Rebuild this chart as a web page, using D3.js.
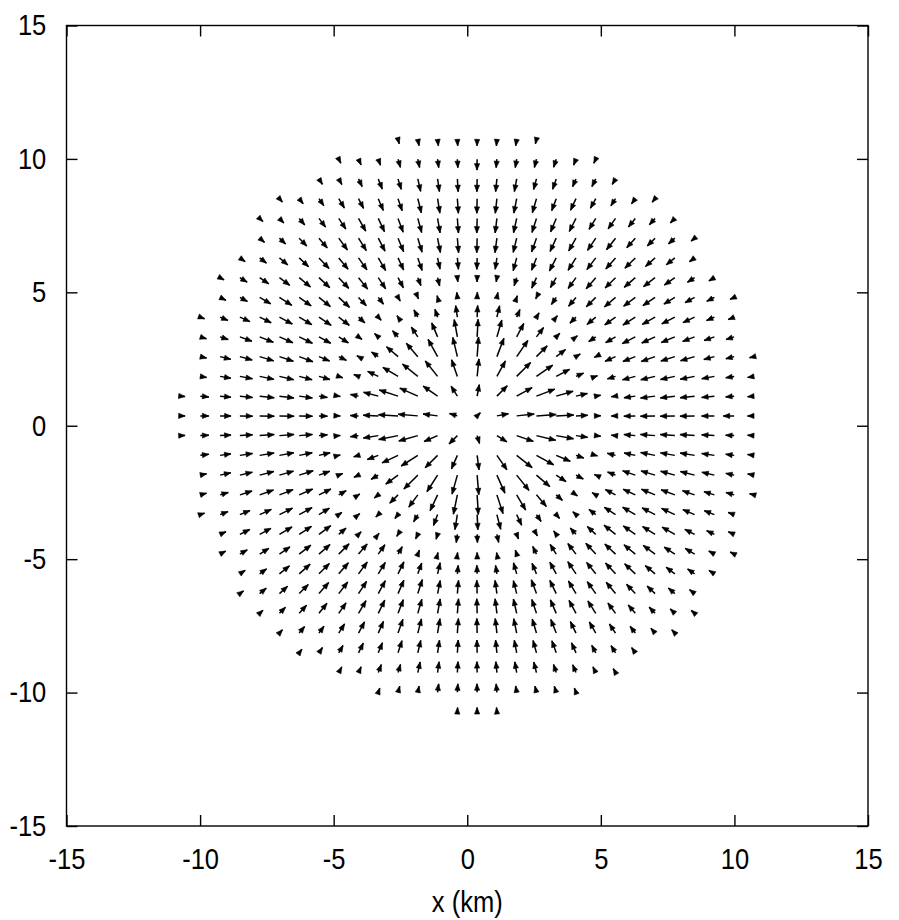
<!DOCTYPE html>
<html>
<head>
<meta charset="utf-8">
<script src="https://cdn.jsdelivr.net/npm/d3@7"></script>
<style>
  body { margin: 0; background: #fff; }
  text { font-family: "Liberation Sans", Arial, sans-serif; fill: #000; }
</style>
</head>
<body>
<svg id="chart" width="899" height="920"></svg>
<script>
// ---- data ----
const xTicks = [-15, -10, -5, 0, 5, 10, 15];
const yTicks = [-15, -10, -5, 0, 5, 10, 15];
const xLabel = "x (km)";

// grid node coordinates (km), used for both columns and rows
const gridCoords = [-10.73,-9.99,-9.25,-8.51,-7.77,-7.03,-6.29,-5.55,-4.81,-4.07,-3.33,-2.59,-1.85,-1.11,-0.37,
                     0.37,1.11,1.85,2.59,3.33,4.07,4.81,5.55,6.29,7.03,7.77,8.51,9.25,9.99,10.73];
// centre the vectors point away from / towards (km)
const sourceX = 0.2;
const sourceY = 0.2;
// rows from top to bottom
const rowY = [10.73,9.99,9.25,8.51,7.77,7.03,6.29,5.55,4.81,4.07,3.33,2.59,1.85,1.11,0.37,
              -0.37,-1.11,-1.85,-2.59,-3.33,-4.07,-4.81,-5.55,-6.29,-7.03,-7.77,-8.51,-9.25,-9.99,-10.73];
// index (into gridCoords) of the first column present in each row
const rowFirstCol = [11,8,7,5,4,4,3,2,2,1,1,1,1,0,0,0,1,1,1,1,2,2,3,3,4,5,6,8,10,14];
// signed radial length of each arrow (km): + outward, - inward
const rowSpeed = [
  [-0.17,-0.24,-0.24,-0.24,-0.24,-0.24,-0.24,-0.17],
  [-0.17,-0.24,-0.24,-0.32,-0.32,-0.32,-0.32,-0.41,-0.32,-0.32,-0.32,-0.32,-0.24,-0.17],
  [-0.24,-0.24,-0.32,-0.41,-0.41,-0.48,-0.48,-0.48,-0.48,-0.48,-0.48,-0.41,-0.41,-0.32,-0.32,-0.24],
  [-0.17,-0.24,-0.32,-0.41,-0.41,-0.48,-0.48,-0.55,-0.55,-0.55,-0.55,-0.55,-0.55,-0.55,-0.48,-0.48,-0.41,-0.32,-0.24,-0.17],
  [-0.17,-0.24,-0.32,-0.41,-0.48,-0.55,-0.55,-0.55,-0.55,-0.55,-0.55,-0.55,-0.55,-0.55,-0.55,-0.55,-0.55,-0.48,-0.48,-0.41,-0.32,-0.24],
  [-0.24,-0.32,-0.41,-0.48,-0.55,-0.55,-0.55,-0.55,-0.55,-0.55,-0.55,-0.55,-0.55,-0.55,-0.55,-0.55,-0.55,-0.55,-0.55,-0.48,-0.41,-0.32,-0.17],
  [-0.24,-0.32,-0.41,-0.48,-0.55,-0.55,-0.55,-0.55,-0.5,-0.5,-0.43,-0.43,-0.43,-0.43,-0.5,-0.5,-0.55,-0.55,-0.55,-0.55,-0.55,-0.48,-0.41,-0.24],
  [-0.17,-0.32,-0.41,-0.48,-0.55,-0.55,-0.55,-0.55,-0.5,-0.43,-0.32,-0.32,-0.16,-0.16,-0.16,-0.32,-0.43,-0.43,-0.5,-0.55,-0.55,-0.55,-0.55,-0.48,-0.32,-0.24],
  [-0.24,-0.32,-0.48,-0.55,-0.55,-0.55,-0.55,-0.43,-0.32,-0.16,-0.06,0.07,0.19,0.19,0.19,0.07,-0.06,-0.32,-0.43,-0.5,-0.55,-0.55,-0.55,-0.48,-0.41,-0.32,-0.17],
  [-0.17,-0.32,-0.41,-0.48,-0.55,-0.55,-0.55,-0.5,-0.32,-0.16,0.07,0.31,0.31,0.44,0.44,0.44,0.31,0.19,0.07,-0.32,-0.43,-0.5,-0.55,-0.55,-0.55,-0.48,-0.32,-0.24],
  [-0.24,-0.32,-0.48,-0.55,-0.55,-0.55,-0.5,-0.43,-0.16,0.19,0.31,0.44,0.57,0.66,0.66,0.66,0.57,0.44,0.19,0.07,-0.32,-0.43,-0.55,-0.55,-0.55,-0.48,-0.41,-0.32],
  [-0.24,-0.41,-0.48,-0.55,-0.55,-0.55,-0.43,-0.32,0.07,0.31,0.57,0.66,0.74,0.74,0.74,0.74,0.74,0.57,0.44,0.19,-0.06,-0.43,-0.5,-0.55,-0.55,-0.55,-0.41,-0.32,-0.17],
  [-0.24,-0.41,-0.48,-0.55,-0.55,-0.5,-0.43,-0.16,0.19,0.44,0.66,0.74,0.74,0.66,0.66,0.66,0.74,0.74,0.57,0.31,0.07,-0.32,-0.5,-0.55,-0.55,-0.55,-0.48,-0.32,-0.24],
  [-0.17,-0.32,-0.41,-0.48,-0.55,-0.55,-0.5,-0.32,-0.06,0.31,0.57,0.74,0.74,0.66,0.44,0.44,0.55,0.66,0.74,0.66,0.44,0.19,-0.16,-0.43,-0.55,-0.55,-0.55,-0.48,-0.32,-0.24],
  [-0.17,-0.32,-0.41,-0.48,-0.55,-0.55,-0.5,-0.32,-0.06,0.31,0.57,0.74,0.74,0.55,0.31,0.17,0.44,0.66,0.74,0.66,0.44,0.19,-0.16,-0.43,-0.55,-0.55,-0.55,-0.48,-0.41,-0.24],
  [-0.17,-0.32,-0.41,-0.48,-0.55,-0.55,-0.5,-0.32,-0.06,0.31,0.57,0.74,0.74,0.55,0.44,0.31,0.44,0.66,0.74,0.66,0.44,0.19,-0.16,-0.43,-0.55,-0.55,-0.55,-0.48,-0.32,-0.24],
  [-0.32,-0.41,-0.48,-0.55,-0.55,-0.5,-0.43,-0.06,0.19,0.44,0.66,0.74,0.66,0.55,0.55,0.66,0.74,0.74,0.57,0.31,0.07,-0.32,-0.43,-0.55,-0.55,-0.55,-0.48,-0.32,-0.24],
  [-0.24,-0.41,-0.48,-0.55,-0.55,-0.55,-0.43,-0.16,0.19,0.31,0.57,0.74,0.74,0.74,0.74,0.74,0.74,0.66,0.44,0.31,-0.06,-0.32,-0.5,-0.55,-0.55,-0.55,-0.48,-0.32,-0.24],
  [-0.24,-0.32,-0.48,-0.55,-0.55,-0.55,-0.5,-0.32,-0.06,0.19,0.44,0.57,0.66,0.74,0.74,0.74,0.66,0.57,0.31,0.07,-0.16,-0.43,-0.5,-0.55,-0.55,-0.48,-0.41,-0.32,-0.17],
  [-0.17,-0.32,-0.41,-0.48,-0.55,-0.55,-0.46,-0.14,-0.06,0.13,0.19,0.31,0.44,0.57,0.57,0.57,0.44,0.31,0.19,-0.16,-0.32,-0.5,-0.55,-0.55,-0.55,-0.48,-0.41,-0.24],
  [-0.24,-0.41,-0.48,-0.55,-0.55,-0.55,-0.36,-0.14,-0.05,0.09,0.19,0.19,0.31,0.31,0.31,0.19,0.07,-0.16,-0.32,-0.43,-0.55,-0.55,-0.55,-0.55,-0.41,-0.32,-0.24],
  [-0.24,-0.32,-0.41,-0.48,-0.55,-0.55,-0.55,-0.5,-0.43,-0.32,-0.16,-0.06,-0.06,-0.06,-0.06,-0.16,-0.32,-0.43,-0.5,-0.55,-0.55,-0.55,-0.55,-0.48,-0.41,-0.24,-0.17],
  [-0.24,-0.32,-0.48,-0.55,-0.55,-0.55,-0.55,-0.5,-0.5,-0.43,-0.43,-0.32,-0.32,-0.32,-0.43,-0.43,-0.5,-0.55,-0.55,-0.55,-0.55,-0.48,-0.41,-0.32,-0.24],
  [-0.17,-0.32,-0.41,-0.48,-0.55,-0.55,-0.55,-0.55,-0.55,-0.55,-0.5,-0.5,-0.5,-0.5,-0.5,-0.55,-0.55,-0.55,-0.55,-0.55,-0.48,-0.41,-0.32,-0.24],
  [-0.17,-0.32,-0.41,-0.48,-0.48,-0.55,-0.55,-0.55,-0.55,-0.55,-0.55,-0.55,-0.55,-0.55,-0.55,-0.55,-0.55,-0.55,-0.48,-0.41,-0.32,-0.24,-0.17],
  [-0.17,-0.32,-0.32,-0.41,-0.48,-0.48,-0.55,-0.55,-0.55,-0.55,-0.55,-0.55,-0.55,-0.55,-0.55,-0.48,-0.48,-0.41,-0.32,-0.24,-0.17],
  [-0.17,-0.24,-0.32,-0.41,-0.41,-0.48,-0.48,-0.48,-0.48,-0.48,-0.48,-0.48,-0.48,-0.48,-0.41,-0.32,-0.32,-0.24],
  [-0.24,-0.24,-0.32,-0.32,-0.41,-0.41,-0.41,-0.41,-0.41,-0.41,-0.41,-0.32,-0.32,-0.24,-0.17],
  [-0.17,-0.24,-0.24,-0.32,-0.32,-0.32,-0.32,-0.24,-0.24,-0.24,-0.17],
  [-0.17,-0.17,-0.17]
];

// ---- drawing ----
const svg = d3.select("#chart");
const x = d3.scaleLinear().domain([-15, 15]).range([66.5, 868]);
const y = d3.scaleLinear().domain([-15, 15]).range([826, 25.5]);
const fmt = d => String(d);
const FS = 29;
const SX = 0.88;   // glyphs in the reference are slightly narrow
const TICK = 11;

// axes with inward ticks on all four sides
const gB = svg.append("g").attr("transform", `translate(0,${y(-15)})`)
  .call(d3.axisBottom(x).tickValues(xTicks).tickFormat(fmt).tickSizeInner(-TICK).tickSizeOuter(0).tickPadding(22));
const gT = svg.append("g").attr("transform", `translate(0,${y(15)})`)
  .call(d3.axisTop(x).tickValues(xTicks).tickFormat("").tickSizeInner(-TICK).tickSizeOuter(0));
const gL = svg.append("g").attr("transform", `translate(${x(-15)},0)`)
  .call(d3.axisLeft(y).tickValues(yTicks).tickFormat(fmt).tickSizeInner(-TICK).tickSizeOuter(0).tickPadding(23));
const gR = svg.append("g").attr("transform", `translate(${x(15)},0)`)
  .call(d3.axisRight(y).tickValues(yTicks).tickFormat("").tickSizeInner(-TICK).tickSizeOuter(0));
[gB, gT, gL, gR].forEach(g => {
  g.select(".domain").remove();
  g.selectAll(".tick line").attr("stroke", "#000").attr("stroke-width", 1.4);
  g.selectAll(".tick text").attr("font-size", FS)
    .attr("font-family", "Liberation Sans, Arial, sans-serif").attr("fill", "#000")
    .attr("transform", `scale(${SX},1)`);
});

// frame
svg.append("rect")
  .attr("x", x(-15)).attr("y", y(15))
  .attr("width", x(15) - x(-15)).attr("height", y(-15) - y(15))
  .attr("fill", "none").attr("stroke", "#000").attr("stroke-width", 1.4);

// axis title
svg.append("text")
  .attr("transform", `translate(${x(0)},912) scale(${SX},1)`)
  .attr("text-anchor", "middle").attr("font-size", FS)
  .text(xLabel);

// vectors
const arrows = [];
rowY.forEach((yv, r) => {
  rowSpeed[r].forEach((s, k) => {
    const xv = gridCoords[rowFirstCol[r] + k];
    const dx = xv - sourceX, dy = yv - sourceY;
    const len = Math.hypot(dx, dy);
    arrows.push({ x: xv, y: yv, u: s * dx / len, v: s * dy / len });
  });
});

const HL = 6.5, HW = 2.6;
const gA = svg.append("g");
arrows.forEach(a => {
  const x1 = x(a.x), y1 = y(a.y);
  const x2 = x(a.x + a.u), y2 = y(a.y + a.v);
  const ang = Math.atan2(y2 - y1, x2 - x1);
  const c = Math.cos(ang), s = Math.sin(ang);
  const bx = x2 - HL * c, by = y2 - HL * s;
  gA.append("line")
    .attr("x1", x1).attr("y1", y1).attr("x2", x2).attr("y2", y2)
    .attr("stroke", "#000").attr("stroke-width", 1.5);
  gA.append("path")
    .attr("d", `M${x2},${y2}L${bx - HW * s},${by + HW * c}L${bx + HW * s},${by - HW * c}Z`)
    .attr("fill", "#000").attr("stroke", "#000").attr("stroke-width", 0.6);
});
</script>
</body>
</html>
